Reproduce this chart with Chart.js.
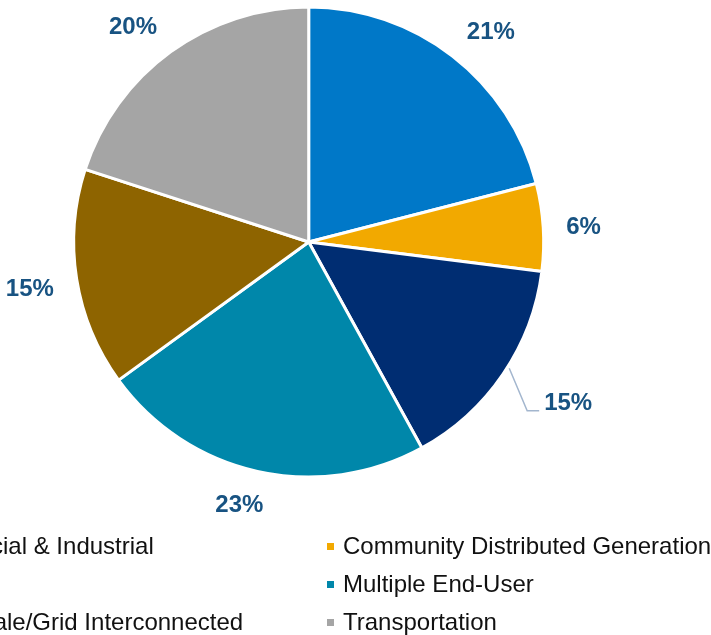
<!DOCTYPE html>
<html>
<head>
<meta charset="utf-8">
<script src="https://cdn.jsdelivr.net/npm/chart.js@4/dist/chart.umd.min.js"></script>
<style>
  html, body { margin: 0; padding: 0; background: #fff; overflow: hidden; }
  #stage { position: relative; width: 711px; height: 635px; overflow: hidden; }
  #pieWrap { position: absolute; left: 0; top: 0; width: 711px; height: 530px; }
  #legend { position: absolute; left: -117px; top: 527px; font-family: Arial, "Liberation Sans", sans-serif; font-size: 24px; color: #111; }
  #legend .row { display: flex; height: 38px; align-items: center; }
  #legend .item { display: flex; align-items: center; width: 444px; white-space: nowrap; }
  #legend .box { width: 7px; height: 7px; margin-right: 9px; flex: none; }
</style>
</head>
<body>
<div id="stage">
  <div id="pieWrap"><canvas id="segmentChart" width="711" height="530"></canvas></div>
  <div id="legend"></div>
</div>
<script>
// segment shares (%), clockwise from 12 o'clock
var segments = ['Commercial & Industrial', 'Community Distributed Generation', 'Military',
                'Multiple End-User', 'Utility-Scale/Grid Interconnected', 'Transportation'];
var shares = [21, 6, 15, 23, 15, 20];
var segColors = ['#0078C8', '#F2A900', '#002D72', '#0087AA', '#8E6400', '#A5A5A5'];

var LABEL_COLOR = '#185382';

function clamp1(v) { return Math.max(-1, Math.min(1, v)); }

// percent labels outside the pie: an anchor point sits a little beyond the rim
// on the slice's mid angle and the label box hangs off it, corner first.
// one slice gets a small leader line instead
var pctLabels = {
  id: 'pctLabels',
  afterDatasetsDraw: function (chart, args, opts) {
    var ctx = chart.ctx;
    var meta = chart.getDatasetMeta(0);
    var data = chart.data.datasets[0].data;
    ctx.save();
    ctx.font = 'bold 24px Arial, "Liberation Sans", sans-serif';
    ctx.fillStyle = LABEL_COLOR;
    meta.data.forEach(function (arc, i) {
      var p = arc.getProps(['x', 'y', 'startAngle', 'endAngle', 'outerRadius'], true);
      var mid = (p.startAngle + p.endAngle) / 2;
      var txt = data[i] + '%';
      if (i === opts.leaderIndex) {
        var a0 = mid - 2 * Math.PI / 180, a1 = mid + 3.5 * Math.PI / 180;
        var r0 = p.outerRadius + 2, r1 = p.outerRadius * 1.175;
        var sx = p.x + Math.cos(a0) * r0, sy = p.y + Math.sin(a0) * r0;
        var ex = p.x + Math.cos(a1) * r1, ey = p.y + Math.sin(a1) * r1;
        ctx.strokeStyle = '#A3B6CE';
        ctx.lineWidth = 1.5;
        ctx.beginPath();
        ctx.moveTo(sx, sy);
        ctx.lineTo(ex, ey);
        ctx.lineTo(ex + 12, ey);
        ctx.stroke();
        ctx.textAlign = 'left';
        ctx.textBaseline = 'middle';
        ctx.fillText(txt, ex + 17, ey - 7);
      } else {
        var r = p.outerRadius + opts.gap;
        var cx = Math.cos(mid), cy = Math.sin(mid);
        var w = ctx.measureText(txt).width;
        var lx = p.x + cx * r + clamp1(cx * opts.k) * w / 2;
        var ly = p.y + cy * r + clamp1(cy * opts.k) * opts.boxHeight / 2;
        ctx.textAlign = 'center';
        ctx.textBaseline = 'middle';
        ctx.fillText(txt, lx, ly + 3);
      }
    });
    ctx.restore();
  }
};

var pieChart = new Chart(document.getElementById('segmentChart'), {
  type: 'pie',
  data: {
    labels: segments,
    datasets: [{
      data: shares,
      backgroundColor: segColors,
      borderColor: '#ffffff',
      borderWidth: 3
    }]
  },
  options: {
    responsive: false,
    animation: false,
    layout: { padding: { left: 8.7, right: 102.3, top: 5.5, bottom: 51.5 } },
    plugins: {
      legend: { display: false },
      tooltip: { enabled: false },
      pctLabels: { gap: 23, boxHeight: 18, k: 2.5, leaderIndex: 2 }
    }
  },
  plugins: [pctLabels]
});

// two-column legend, filled row by row
var legendEl = document.getElementById('legend');
for (var i = 0; i < segments.length; i += 2) {
  var row = document.createElement('div');
  row.className = 'row';
  [i, i + 1].forEach(function (k) {
    var item = document.createElement('div');
    item.className = 'item';
    var box = document.createElement('span');
    box.className = 'box';
    box.style.background = segColors[k];
    var lbl = document.createElement('span');
    lbl.textContent = segments[k];
    item.appendChild(box);
    item.appendChild(lbl);
    row.appendChild(item);
  });
  legendEl.appendChild(row);
}
</script>
</body>
</html>
